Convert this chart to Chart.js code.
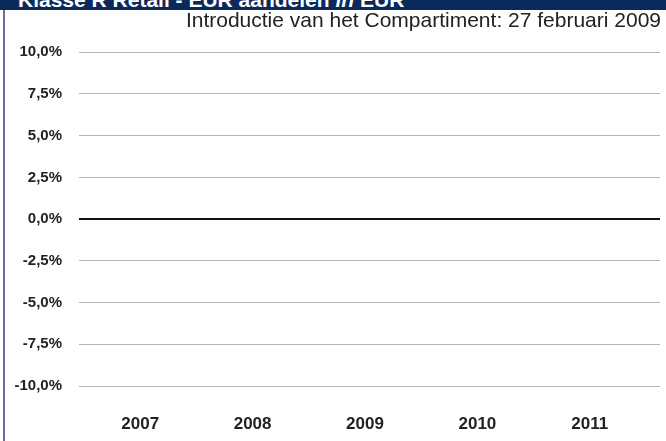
<!DOCTYPE html>
<html>
<head>
<meta charset="utf-8">
<script src="https://cdn.jsdelivr.net/npm/chart.js@4"></script>
<style>
  html, body { margin: 0; padding: 0; background: #fff; }
  #wrap { position: relative; width: 666px; height: 441px; overflow: hidden; }
  #chart { position: absolute; left: 0; top: 0; }
  #banner {
    position: absolute; left: 0; top: 0; width: 666px; height: 10px;
    background: #0a2a5c; overflow: hidden; z-index: 2;
  }
  #banner span {
    position: absolute; left: 18px; top: -12px; line-height: 21px;
    font: bold 21px 'Liberation Sans', Arial, sans-serif; color: #fff; white-space: nowrap;
  }
  #sidebar { position: absolute; left: 3px; top: 10px; width: 2px; height: 431px; background: #6a6ea8; z-index: 2; }
</style>
</head>
<body>
<div id="wrap">
  <canvas id="chart" width="666" height="441"></canvas>
  <div id="banner"><span>Klasse R Retail - EUR aandelen <i>in</i> EUR</span></div>
  <div id="sidebar"></div>
</div>
<script>
const years = ['2007', '2008', '2009', '2010', '2011'];
// no returns yet: the sub-fund was introduced on 27 Feb 2009
const returns = [null, null, null, null, null];
const yMin = -10;
const yMax = 10;
const yStep = 2.5;

const font = "'Liberation Sans', Arial, sans-serif";
const gridColor = c => c.tick && c.tick.value === 0 ? '#111111' : '#b4b4b4';
const gridWidth = c => c.tick && c.tick.value === 0 ? 2 : 1;

const ctx = document.getElementById('chart').getContext('2d');
const chart = new Chart(ctx, {
    type: 'line',
    data: {
        labels: years,
        datasets: [{
            label: 'Klasse R Retail',
            data: returns,
            borderColor: '#0a2a5c',
            backgroundColor: '#0a2a5c'
        }]
    },
    options: {
        responsive: false,
        animation: false,
        layout: { padding: { top: 0, right: 5, bottom: 0, left: 0 } },
        scales: {
            x: {
                offset: true,
                afterFit: s => { s.height = 55; },
                grid: { display: false },
                border: { display: false },
                ticks: {
                    padding: 20,
                    color: '#222',
                    font: { family: font, size: 17, weight: 'bold' }
                }
            },
            y: {
                min: yMin,
                max: yMax,
                afterFit: s => { s.width = 84; },
                border: { display: false },
                grid: { color: gridColor, lineWidth: gridWidth, tickLength: 5 },
                ticks: {
                    stepSize: yStep,
                    padding: 17,
                    color: '#222',
                    font: { family: font, size: 15, weight: 'bold' },
                    callback: v => v.toFixed(1).replace('.', ',') + '%'
                }
            },
            y2: {
                position: 'right',
                min: yMin,
                max: yMax,
                afterFit: s => { s.width = 15; },
                border: { display: false },
                grid: { drawOnChartArea: false, color: gridColor, lineWidth: gridWidth, tickLength: 14 },
                ticks: { stepSize: yStep, display: false }
            }
        },
        plugins: {
            legend: { display: false },
            tooltip: { enabled: false },
            title: {
                display: true,
                text: 'Introductie van het Compartiment: 27 februari 2009',
                align: 'end',
                color: '#222',
                font: { family: font, size: 21, weight: 'normal' },
                padding: { top: 9, bottom: 18 }
            }
        }
    }
});
</script>
</body>
</html>
